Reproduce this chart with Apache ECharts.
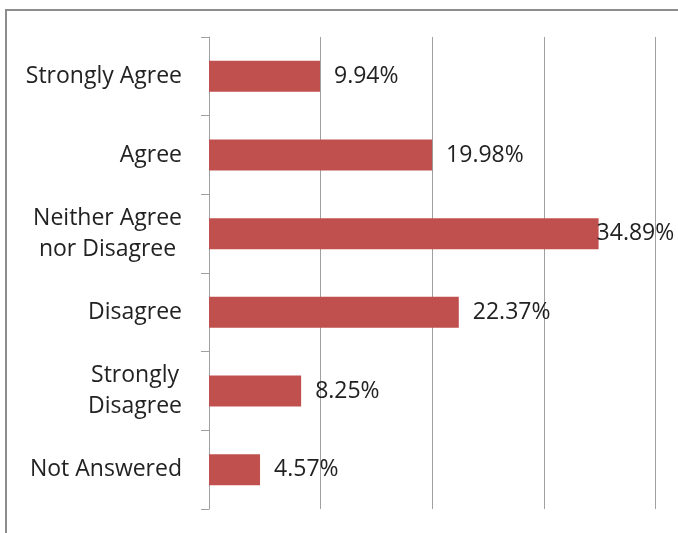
<!DOCTYPE html>
<html>
<head>
<meta charset="utf-8">
<script src="https://cdn.jsdelivr.net/npm/echarts@6/dist/echarts.min.js"></script>
<style>
  html, body { margin: 0; padding: 0; background: #fff; }
  #chart { width: 678px; height: 533px; }
</style>
</head>
<body>
<div id="chart"></div>
<script>
// Survey responses, percentage of respondents per answer
const categories = [
  'Strongly Agree',
  'Agree',
  'Neither Agree\nnor Disagree',
  'Disagree',
  'Strongly\nDisagree',
  'Not Answered'
];
const percentages = [9.94, 19.98, 34.89, 22.37, 8.25, 4.57];
const axisTicks = [0, 10, 20, 30, 40];
const xVisibleMax = 42; // plot area is cut at the right edge of the page

const FONT = "'Open Sans', 'Noto Sans', sans-serif";
const TEXT = '#222222';
const GRID = '#a0a0a0';
const BAR = '#c0504d';

// the longest bar's label sits right against the bar end
const labelDistance = (i) => (i === 2 ? -2 : 14);

const chart = echarts.init(document.getElementById('chart'), null, { renderer: 'canvas' });

chart.setOption({
  animation: false,
  backgroundColor: '#ffffff',
  graphic: [{
    type: 'rect',
    shape: { x: 6, y: 10, width: 800, height: 700 },
    style: { fill: 'none', stroke: '#8c8c8c', lineWidth: 2 },
    silent: true,
    z: 0
  }],
  grid: { left: 209, right: 0, top: 37, bottom: 24, containLabel: false },
  xAxis: {
    type: 'value',
    min: axisTicks[0],
    max: xVisibleMax,
    interval: axisTicks[1] - axisTicks[0],
    axisLine: { show: false },
    axisTick: { show: false },
    axisLabel: { show: false },
    splitLine: { show: true, lineStyle: { color: GRID, width: 1 } }
  },
  yAxis: {
    type: 'category',
    inverse: true,
    data: categories,
    axisLine: { show: true, lineStyle: { color: GRID, width: 1 } },
    axisTick: { show: true, length: 8, inside: false, lineStyle: { color: GRID } },
    splitLine: { show: false },
    axisLabel: {
      margin: 27,
      align: 'right',
      color: TEXT,
      fontFamily: FONT,
      fontSize: 23,
      lineHeight: 31,
      formatter: (v) => v.split('\n').map((s) => '{c|' + s + '}').join('\n'),
      rich: {
        c: { align: 'center', color: TEXT, fontFamily: FONT, fontSize: 23, lineHeight: 31 }
      }
    }
  },
  series: [{
    type: 'bar',
    barWidth: 31,
    itemStyle: { color: BAR },
    data: percentages.map((v, i) => ({ value: v, label: { distance: labelDistance(i) } })),
    label: {
      show: true,
      position: 'right',
      color: TEXT,
      fontFamily: FONT,
      fontSize: 23,
      formatter: (p) => p.value.toFixed(2) + '%'
    },
    z: 3
  }]
});
</script>
</body>
</html>
